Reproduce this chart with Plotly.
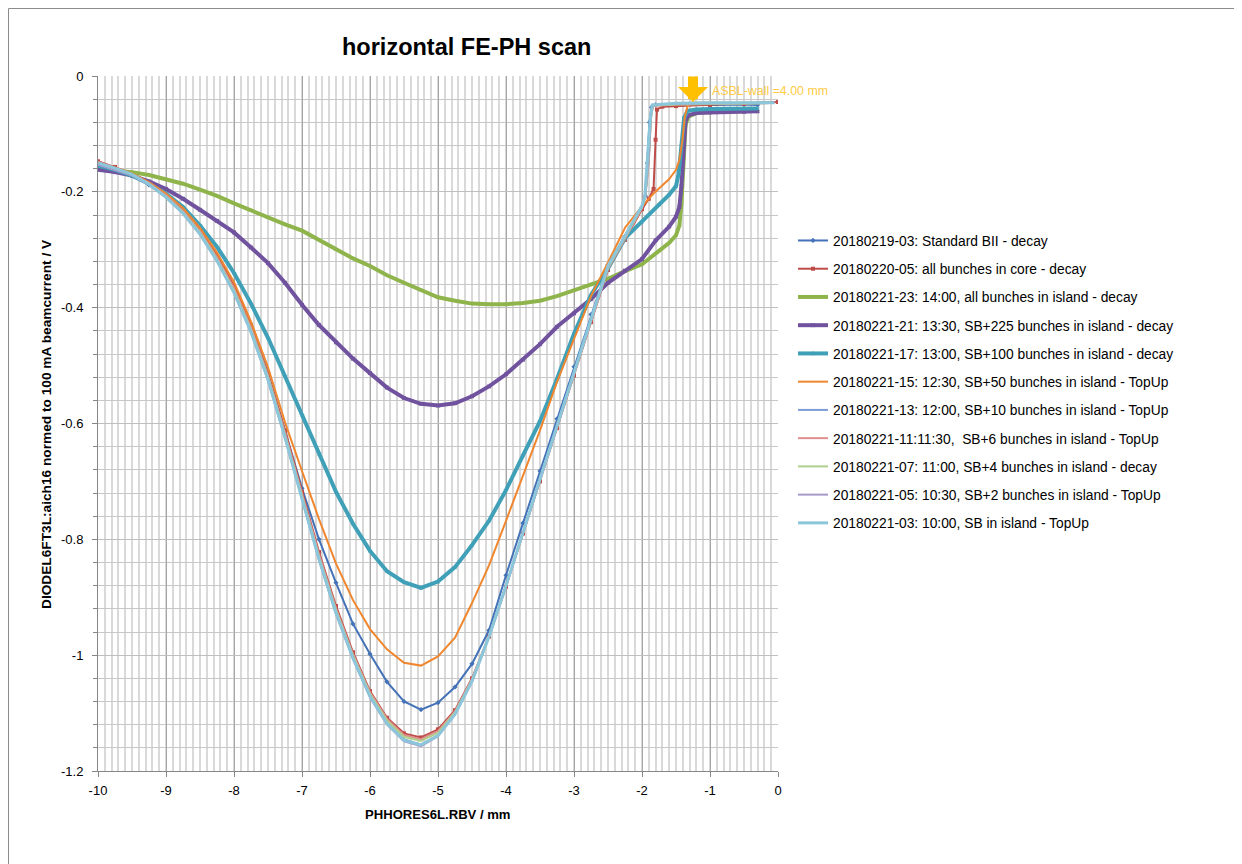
import plotly.graph_objects as go

# ---------------- data ----------------
X_GRID = [-10.0, -9.75, -9.5, -9.25, -9.0, -8.75, -8.5, -8.25, -8.0, -7.75, -7.5,
          -7.25, -7.0, -6.75, -6.5, -6.25, -6.0, -5.75, -5.5, -5.25, -5.0, -4.75,
          -4.5, -4.25, -4.0, -3.75, -3.5, -3.25, -3.0, -2.75, -2.5, -2.25, -2.0]

NAMES = [
    "20180219-03: Standard BII - decay",
    "20180220-05: all bunches in core - decay",
    "20180221-23: 14:00, all bunches in island - decay",
    "20180221-21: 13:30, SB+225 bunches in island - decay",
    "20180221-17: 13:00, SB+100 bunches in island - decay",
    "20180221-15: 12:30, SB+50 bunches in island - TopUp",
    "20180221-13: 12:00, SB+10 bunches in island - TopUp",
    "20180221-11:11:30,  SB+6 bunches in island - TopUp",
    "20180221-07: 11:00, SB+4 bunches in island - decay",
    "20180221-05: 10:30, SB+2 bunches in island - TopUp",
    "20180221-03: 10:00, SB in island - TopUp",
]

S1_Y = [-0.155, -0.163, -0.172, -0.188, -0.208, -0.233, -0.268, -0.312, -0.365, -0.432, -0.512,
        -0.612, -0.712, -0.800, -0.875, -0.946, -0.998, -1.046, -1.080, -1.094, -1.082, -1.055,
        -1.015, -0.957, -0.862, -0.772, -0.682, -0.592, -0.502, -0.412, -0.326, -0.277, -0.227]
S1_TX = [-1.95, -1.92, -1.89, -1.86, -1.8, -1.5, -1.0, -0.5, -0.3]
S1_TY = [-0.207, -0.150, -0.080, -0.054, -0.050, -0.049, -0.050, -0.049, -0.050]

S2_Y = [-0.147, -0.157, -0.168, -0.184, -0.205, -0.231, -0.266, -0.310, -0.362, -0.430, -0.515,
        -0.612, -0.718, -0.822, -0.915, -0.995, -1.062, -1.108, -1.135, -1.142, -1.128, -1.095,
        -1.040, -0.968, -0.882, -0.790, -0.700, -0.608, -0.517, -0.425, -0.335, -0.283, -0.230]
S2_TX = [-1.9, -1.83, -1.8, -1.78, -1.7, -1.5, -1.0, -0.5, 0.0]
S2_TY = [-0.212, -0.195, -0.110, -0.058, -0.053, -0.052, -0.050, -0.048, -0.045]

S3_Y = [-0.160, -0.163, -0.166, -0.171, -0.178, -0.186, -0.196, -0.207, -0.220, -0.232, -0.245,
        -0.256, -0.267, -0.283, -0.300, -0.315, -0.328, -0.344, -0.357, -0.370, -0.382, -0.388,
        -0.393, -0.394, -0.394, -0.392, -0.388, -0.380, -0.370, -0.360, -0.350, -0.337, -0.325]
S3_TX = [-1.75, -1.6, -1.5, -1.45, -1.42, -1.39, -1.36, -1.32, -1.2, -1.0, -0.75, -0.5, -0.3]
S3_TY = [-0.302, -0.288, -0.275, -0.258, -0.220, -0.140, -0.085, -0.070, -0.064, -0.062, -0.061, -0.060, -0.060]

S4_Y = [-0.162, -0.166, -0.172, -0.182, -0.195, -0.212, -0.231, -0.250, -0.270, -0.296, -0.323,
        -0.357, -0.395, -0.430, -0.460, -0.488, -0.513, -0.538, -0.556, -0.566, -0.569, -0.565,
        -0.553, -0.536, -0.515, -0.490, -0.463, -0.433, -0.410, -0.385, -0.357, -0.336, -0.316]
S4_TX = [-1.8, -1.6, -1.5, -1.45, -1.42, -1.39, -1.36, -1.32, -1.2, -1.0, -0.75, -0.5, -0.3]
S4_TY = [-0.284, -0.260, -0.243, -0.226, -0.190, -0.120, -0.078, -0.068, -0.064, -0.063, -0.062, -0.062, -0.061]

S5_Y = [-0.155, -0.162, -0.172, -0.186, -0.203, -0.226, -0.258, -0.295, -0.340, -0.393, -0.452,
        -0.518, -0.585, -0.652, -0.718, -0.773, -0.820, -0.855, -0.874, -0.884, -0.873, -0.848,
        -0.810, -0.768, -0.715, -0.655, -0.596, -0.523, -0.445, -0.378, -0.332, -0.280, -0.252]
S5_TX = [-1.75, -1.6, -1.5, -1.46, -1.42, -1.38, -1.33, -1.2, -1.0, -0.75, -0.5, -0.3]
S5_TY = [-0.222, -0.205, -0.190, -0.168, -0.120, -0.072, -0.060, -0.058, -0.057, -0.057, -0.056, -0.056]

S6_Y = [-0.150, -0.158, -0.168, -0.183, -0.203, -0.228, -0.262, -0.305, -0.356, -0.424, -0.503,
        -0.598, -0.682, -0.765, -0.842, -0.905, -0.955, -0.990, -1.013, -1.018, -1.002, -0.970,
        -0.910, -0.845, -0.768, -0.690, -0.612, -0.528, -0.455, -0.380, -0.322, -0.262, -0.225]
S6_TX = [-1.83, -1.6, -1.5, -1.45, -1.41, -1.37, -1.33, -1.29, -1.2, -1.0, -0.75, -0.5, -0.3]
S6_TY = [-0.203, -0.178, -0.162, -0.145, -0.115, -0.070, -0.052, -0.046, -0.046, -0.046, -0.046, -0.046, -0.046]

S7_Y = [-0.152, -0.160, -0.171, -0.187, -0.209, -0.236, -0.272, -0.318, -0.372, -0.440, -0.522,
        -0.622, -0.728, -0.832, -0.925, -1.003, -1.070, -1.116, -1.145, -1.155, -1.138, -1.100,
        -1.045, -0.968, -0.880, -0.788, -0.697, -0.605, -0.513, -0.421, -0.330, -0.278, -0.226]
S7_TX = [-1.95, -1.9, -1.87, -1.84, -1.5, -1.0, -0.5, -0.1]
S7_TY = [-0.205, -0.140, -0.070, -0.050, -0.048, -0.047, -0.047, -0.046]

S8_Y = [-0.148, -0.158, -0.169, -0.185, -0.206, -0.233, -0.268, -0.313, -0.366, -0.434, -0.517,
        -0.616, -0.722, -0.826, -0.919, -0.998, -1.064, -1.110, -1.138, -1.145, -1.131, -1.097,
        -1.041, -0.966, -0.880, -0.789, -0.699, -0.607, -0.516, -0.424, -0.333, -0.281, -0.228]
S8_TX = [-1.95, -1.9, -1.87, -1.84, -1.5, -1.0, -0.5, -0.15]
S8_TY = [-0.207, -0.150, -0.075, -0.052, -0.049, -0.048, -0.048, -0.047]

S9_Y = [-0.151, -0.161, -0.171, -0.186, -0.208, -0.235, -0.270, -0.316, -0.370, -0.438, -0.520,
        -0.620, -0.726, -0.830, -0.922, -1.001, -1.067, -1.113, -1.141, -1.148, -1.134, -1.099,
        -1.043, -0.967, -0.881, -0.790, -0.699, -0.606, -0.514, -0.422, -0.331, -0.279, -0.227]
S9_TX = [-1.95, -1.9, -1.87, -1.84, -1.5, -1.0, -0.5, -0.2]
S9_TY = [-0.206, -0.145, -0.072, -0.051, -0.049, -0.048, -0.048, -0.047]

S10_Y = [-0.153, -0.162, -0.172, -0.188, -0.210, -0.238, -0.274, -0.320, -0.375, -0.443, -0.526,
         -0.626, -0.732, -0.836, -0.929, -1.007, -1.073, -1.120, -1.149, -1.157, -1.140, -1.103,
         -1.046, -0.969, -0.881, -0.789, -0.697, -0.604, -0.512, -0.420, -0.329, -0.277, -0.225]
S10_TX = [-1.95, -1.9, -1.87, -1.84, -1.5, -1.0, -0.5, -0.1]
S10_TY = [-0.204, -0.140, -0.068, -0.050, -0.048, -0.047, -0.047, -0.046]

S11_Y = [-0.150, -0.159, -0.170, -0.187, -0.209, -0.237, -0.273, -0.319, -0.374, -0.442, -0.524,
         -0.624, -0.730, -0.834, -0.927, -1.005, -1.071, -1.118, -1.147, -1.155, -1.139, -1.102,
         -1.045, -0.968, -0.880, -0.788, -0.696, -0.604, -0.512, -0.420, -0.328, -0.276, -0.224]
S11_TX = [-1.96, -1.92, -1.88, -1.85, -1.5, -1.0, -0.5, -0.05]
S11_TY = [-0.210, -0.150, -0.075, -0.050, -0.047, -0.046, -0.046, -0.046]

Y_TICKS = [-1.2, -1.0, -0.8, -0.6, -0.4, -0.2, 0.0]
Y_TICK_TEXT = ["-1.2", "-1", "-0.8", "-0.6", "-0.4", "-0.2", "0"]
X_TICKS = [-10, -9, -8, -7, -6, -5, -4, -3, -2, -1, 0]
X_TICK_TEXT = ["-10", "-9", "-8", "-7", "-6", "-5", "-4", "-3", "-2", "-1", "0"]

WALL_X = -1.25
WALL_LABEL = "ASBL-wall =4.00 mm"

# ---------------- styles ----------------
SERIES = [
    (S1_Y, S1_TX, S1_TY, "#4472B8", 2, dict(symbol="diamond", size=4)),
    (S2_Y, S2_TX, S2_TY, "#BE4B48", 2, dict(symbol="square", size=4)),
    (S3_Y, S3_TX, S3_TY, "#8EB44B", 4, dict(symbol="triangle-up", size=4)),
    (S4_Y, S4_TX, S4_TY, "#70529E", 4, dict(symbol="x", size=4)),
    (S5_Y, S5_TX, S5_TY, "#3FA0B8", 4, dict(symbol="star", size=4)),
    (S6_Y, S6_TX, S6_TY, "#F0862E", 2, None),
    (S7_Y, S7_TX, S7_TY, "#7E9CD4", 2, None),
    (S8_Y, S8_TX, S8_TY, "#DE8F8C", 2, None),
    (S9_Y, S9_TX, S9_TY, "#AFD08C", 2, None),
    (S10_Y, S10_TX, S10_TY, "#A899CB", 2, None),
    (S11_Y, S11_TX, S11_TY, "#8CC6DA", 3, None),
]

FONT = "Liberation Sans, Arial, sans-serif"

fig = go.Figure()
for i, (ys, tx, ty, col, lw, mk) in enumerate(SERIES):
    kw = dict(
        x=X_GRID + tx,
        y=ys + ty,
        name=NAMES[i],
        legendgroup="g%d" % i,
        line=dict(color=col, width=lw),
    )
    if mk:
        kw["mode"] = "lines+markers"
        kw["marker"] = dict(color=col, **mk)
    else:
        kw["mode"] = "lines"
    fig.add_trace(go.Scatter(**kw))

# page has an 8px body margin, so the figure is drawn 8px smaller
OFF = 8
W, H = 1242 - OFF, 864 - OFF
L, R, T, B = 98, 778, 76, 771   # plot box in reference pixels

def px_x(p):
    return (p - L) / (R - L)

def px_y(p):
    return (B - p) / (B - T)

fig.update_layout(
    width=W, height=H,
    margin=dict(l=L - OFF, r=(W + OFF) - R, t=T - OFF, b=(H + OFF) - B, pad=0),
    paper_bgcolor="white",
    plot_bgcolor="white",
    font=dict(family=FONT, size=13, color="#000000"),
    showlegend=True,
    legend=dict(
        x=px_x(793), y=px_y(225), xanchor="left", yanchor="top",
        font=dict(family=FONT, size=13.8, color="#000000"),
        tracegroupgap=7.3,
        bgcolor="rgba(0,0,0,0)",
        itemwidth=30,
    ),
    xaxis=dict(
        range=[-10, 0],
        tickvals=X_TICKS, ticktext=X_TICK_TEXT,
        showgrid=True, gridcolor="#A6A6A6", gridwidth=1,
        minor=dict(dtick=0.1, tick0=-10, showgrid=True, gridcolor="#D9D9D9", gridwidth=1.5),
        showline=True, linecolor="#868686", linewidth=1,
        ticks="outside", ticklen=5, tickcolor="#868686",
        ticklabelstandoff=2,
        zeroline=False,
        tickfont=dict(family=FONT, size=13, color="#000000"),
    ),
    yaxis=dict(
        range=[-1.2, 0],
        tickvals=Y_TICKS, ticktext=Y_TICK_TEXT,
        showgrid=True, gridcolor="#BFBFBF", gridwidth=1,
        minor=dict(dtick=0.04, tick0=0, showgrid=True, gridcolor="#C8C8C8", gridwidth=1,
                   ticks="outside", ticklen=4, tickcolor="#868686"),
        showline=True, linecolor="#868686", linewidth=1,
        ticks="outside", ticklen=5, tickcolor="#868686",
        ticklabelstandoff=6,
        zeroline=False,
        tickfont=dict(family=FONT, size=13, color="#000000"),
    ),
)

# chart titles
fig.add_annotation(text="<b>horizontal FE-PH scan</b>", xref="paper", yref="paper",
                   x=px_x(466), y=px_y(47), xanchor="center", yanchor="middle",
                   showarrow=False, font=dict(family=FONT, size=23.5, color="#000000"))
fig.add_annotation(text="<b>PHHORES6L.RBV / mm</b>", xref="paper", yref="paper",
                   x=px_x(438), y=px_y(815), xanchor="center", yanchor="middle",
                   showarrow=False, font=dict(family=FONT, size=13.1, color="#000000"))
fig.add_annotation(text="<b>DIODEL6FT3L:aich16 normed to 100 mA beamcurrent / V</b>",
                   xref="paper", yref="paper", x=px_x(47), y=px_y(424), textangle=-90,
                   xanchor="center", yanchor="middle",
                   showarrow=False, font=dict(family=FONT, size=13.7, color="#000000"))

# wall marker arrow and label
fig.add_annotation(x=WALL_X, y=-0.045, xref="x", yref="y", text="", showarrow=True,
                   ax=0, ay=-27, arrowhead=1, arrowwidth=10, arrowsize=0.5,
                   arrowcolor="#FFC000")
fig.add_annotation(x=-1.0, y=-0.026, xref="x", yref="y", text=WALL_LABEL,
                   showarrow=False, xanchor="left", yanchor="middle",
                   font=dict(family=FONT, size=12.4, color="#FFCB45"))

# outer chart frame (left and top edges visible, at the very edge of the figure)
FRAME = OFF + 0.5
fig.add_shape(type="line", xref="paper", yref="paper", x0=px_x(FRAME), x1=px_x(FRAME),
              y0=px_y(FRAME), y1=px_y(H + OFF + 5), line=dict(color="#8C8C8C", width=1))
fig.add_shape(type="line", xref="paper", yref="paper", x0=px_x(FRAME), x1=px_x(W + OFF + 5),
              y0=px_y(FRAME), y1=px_y(FRAME), line=dict(color="#8C8C8C", width=1))

fig.write_html("out.html")
